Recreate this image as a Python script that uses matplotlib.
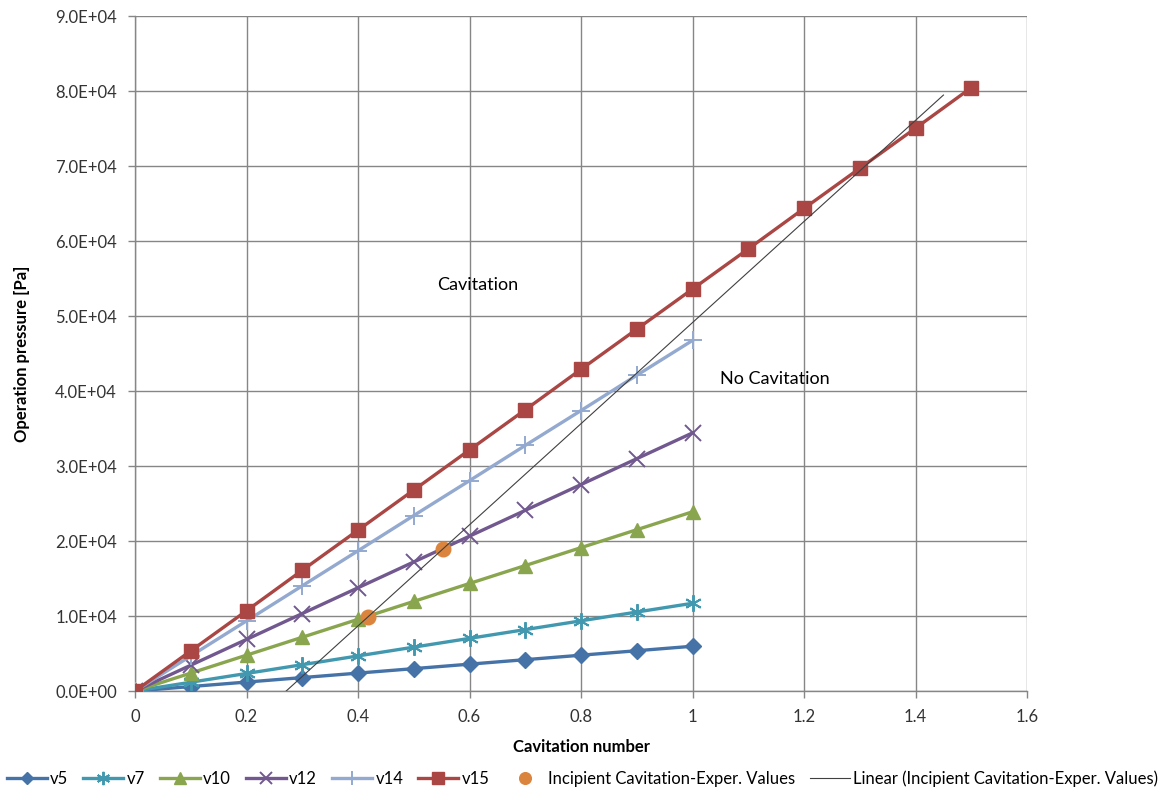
import matplotlib
matplotlib.use("Agg")
import matplotlib.pyplot as plt
import numpy as np
from matplotlib.ticker import FuncFormatter, MultipleLocator

plt.rcParams['font.family'] = ['Lato', 'DejaVu Sans']

# ---- data ----
x_long = [0, 0.1, 0.2, 0.3, 0.4, 0.5, 0.6, 0.7, 0.8, 0.9, 1.0, 1.1, 1.2, 1.3, 1.4, 1.5]
x_short = [0, 0.1, 0.2, 0.3, 0.4, 0.5, 0.6, 0.7, 0.8, 0.9, 1.0]

v5 = [0, 597, 1194, 1791, 2388, 2985, 3582, 4179, 4776, 5373, 5970]
v7 = [0, 1170, 2340, 3510, 4680, 5850, 7020, 8190, 9360, 10530, 11700]
v10 = [0, 2390, 4780, 7170, 9560, 11950, 14340, 16730, 19120, 21510, 23900]
v12 = [0, 3440, 6880, 10330, 13770, 17210, 20650, 24090, 27530, 30980, 34420]
v14 = [0, 4680, 9350, 14030, 18700, 23400, 28050, 32750, 37400, 42100, 46750]
v15 = [0, 5350, 10700, 16100, 21450, 26800, 32150, 37500, 42900, 48250,
       53600, 58950, 64350, 69700, 75050, 80450]

incip_x = [0.418, 0.553]
incip_y = [9900, 19000]

trend_x_end = 1.45

x_ticks = [0, 0.2, 0.4, 0.6, 0.8, 1.0, 1.2, 1.4, 1.6]
x_ticklabels = ["0", "0.2", "0.4", "0.6", "0.8", "1", "1.2", "1.4", "1.6"]

# ---- figure ----
fig = plt.figure(figsize=(11.65, 7.94), dpi=100)
ax = fig.add_axes([0.1159, 0.1297, 0.7657, 0.8501])

series = [
    ("v5", x_short, v5, "#4572A7", "D", 8, 1.0),
    ("v7", x_short, v7, "#4198AF", (6, 2, 0), 12, 1.4),
    ("v10", x_short, v10, "#89A54E", "^", 10, 1.0),
    ("v12", x_short, v12, "#71588F", "x", 11, 1.4),
    ("v14", x_short, v14, "#93A9CF", "+", 13, 1.4),
    ("v15", x_long, v15, "#AA4643", "s", 10, 1.0),
]
for name, xs, ys, col, mk, ms, mew in series:
    ax.plot(xs, ys, color=col, lw=2.4, marker=mk, markersize=ms,
            markeredgewidth=mew, markerfacecolor=col, markeredgecolor=col,
            label=name, zorder=3)

ax.plot(incip_x, incip_y, linestyle="none", marker="o", markersize=10.5,
        color="#DB843D", label="Incipient Cavitation-Exper. Values", zorder=4)

slope, intercept = np.polyfit(incip_x, incip_y, 1)
x0 = -intercept / slope
tx = np.array([x0, trend_x_end])
ax.plot(tx, slope * tx + intercept, color="#404040", lw=0.8,
        label="Linear (Incipient Cavitation-Exper. Values)", zorder=5)

ax.text(0.615, 54100, "Cavitation", fontsize=13, ha="center", va="center")
ax.text(1.148, 41600, "No Cavitation", fontsize=13, ha="center", va="center")

ax.set_xlim(0, 1.6)
ax.set_ylim(0, 90000)
ax.set_xticks(x_ticks)
ax.set_xticklabels(x_ticklabels)
ax.yaxis.set_major_locator(MultipleLocator(10000))

def efmt(v, pos):
    if v == 0:
        return "0.0E+00"
    e = int(np.floor(np.log10(abs(v))))
    m = v / 10 ** e
    return f"{m:.1f}E+{e:02d}"

ax.yaxis.set_major_formatter(FuncFormatter(efmt))
ax.tick_params(axis="both", labelsize=12, labelcolor="#333333", length=5,
               width=1, direction="out", color="#868686")
ax.tick_params(axis="x", pad=8)
ax.tick_params(axis="y", pad=8)
ax.grid(True, color="#868686", lw=1)
ax.set_axisbelow(True)
for s in ["top", "right"]:
    ax.spines[s].set_visible(False)
for s in ["left", "bottom"]:
    ax.spines[s].set_color("#868686")
    ax.spines[s].set_linewidth(1)

ax.set_xlabel("Cavitation number", fontsize=12, fontweight="bold", labelpad=10)
ax.set_ylabel("Operation pressure [Pa]", fontsize=12, fontweight="bold", labelpad=18)

leg = fig.legend(loc="center", bbox_to_anchor=(0.5, 0.019), ncol=8, frameon=False,
                 fontsize=12, handlelength=2.4, columnspacing=0.9, handletextpad=0.2,
                 markerscale=0.8)

fig.savefig("out.png", dpi=100)
